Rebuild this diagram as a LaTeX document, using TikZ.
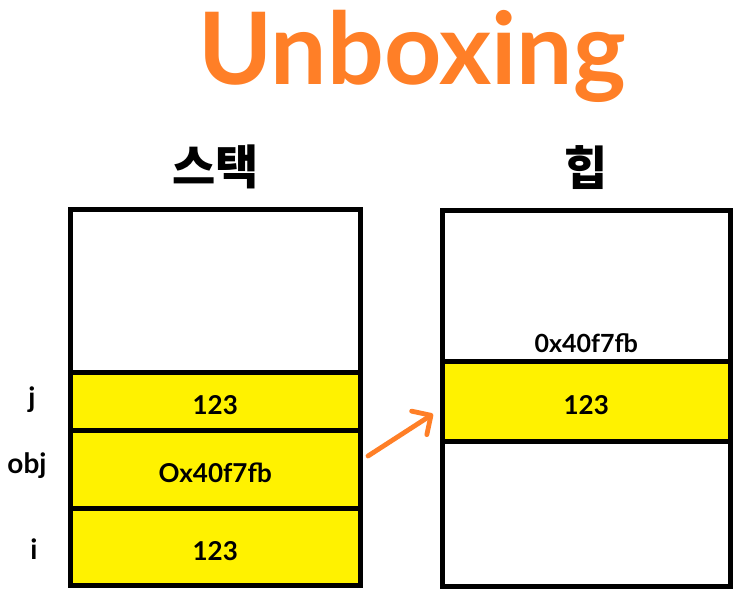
\documentclass[tikz,border=0pt]{standalone}
\usepackage{fontspec}
\setmainfont{Lato}
\newfontfamily\krfont{Noto Sans CJK KR}
\usetikzlibrary{arrows.meta}
\usetikzlibrary{positioning}

\definecolor{boxorange}{HTML}{FF7F27}
\definecolor{boxyellow}{HTML}{FFF200}

\tikzset{
    cell/.style = {draw, line width=5pt, inner sep=0pt, outer sep=0pt,
        text height=26pt, text depth=0pt,
        font=\bfseries\fontsize{26}{30}\selectfont},
    stackcell/.style = {cell, minimum width=289.5pt},
    heapcell/.style = {cell, minimum width=288.5pt},
    valcell/.style = {fill=boxyellow},
    varname/.style = {font=\bfseries\fontsize{28}{32}\selectfont, inner sep=0pt},
    addrtext/.style = {font=\bfseries\fontsize{25}{30}\selectfont, inner sep=0pt},
    title/.style = {font=\krfont\bfseries\fontsize{47}{52}\selectfont, inner sep=0pt},
    unbox/.style = {draw=boxorange, line width=4.8pt, line cap=round,
        -{Straight Barb[length=14pt, width=28pt, round]}}
}

\begin{document}
\begin{tikzpicture}[x=1pt, y=-1pt]
    \useasboundingbox (0,0) rectangle (746,604);

    \node[anchor=base, text=boxorange, font=\bfseries\fontsize{100}{112}\selectfont, inner sep=0pt]
        (heading) at (412,85) {Unboxing};

    % stack
    \node[stackcell, anchor=north, minimum height=162.5pt] (stacktop) at (215.25,209.5) {};
    \node[stackcell, valcell, minimum height=58.5pt, below=0pt of stacktop] (jcell) {123};
    \node[stackcell, valcell, minimum height=78pt, below=0pt of jcell] (objcell) {Ox40f7fb};
    \node[stackcell, valcell, minimum height=77pt, below=0pt of objcell] (icell) {123};
    \node[title, above=20pt of stacktop] (stacktitle) {스택};

    \node[varname] (jname) at (32,400) {j};
    \node[varname] (objname) at (27,466) {obj};
    \node[varname] (iname) at (34,549) {i};

    % heap
    \node[heapcell, anchor=north, minimum height=151pt] (heaptop) at (586.25,210) {};
    \node[heapcell, valcell, minimum height=80.5pt, below=0pt of heaptop] (heapval) {123};
    \node[heapcell, minimum height=144.5pt, below=0pt of heapval] (heapbottom) {};
    \node[addrtext, above=8pt of heapval] (addr) {0x40f7fb};
    \node[title, above=20pt of heaptop] (heaptitle) {힙};

    \coordinate (arrstart) at ([shift={(8,-13.5)}]objcell.east);
    \coordinate (arrend) at ([shift={(-9,12.75)}]heapval.west);
    \draw[unbox] (arrstart) -- (arrend);
\end{tikzpicture}
\end{document}
